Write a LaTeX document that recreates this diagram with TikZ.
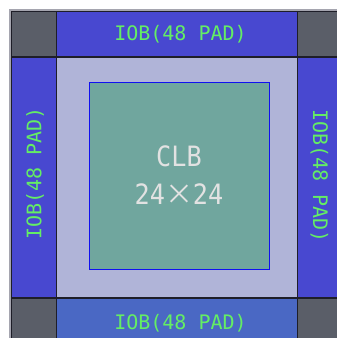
\documentclass[tikz,border=0pt]{standalone}
\usepackage{fontspec}
\usepackage{tikz}
\setmonofont{DejaVu Sans Mono}
\newfontfamily\cjkfont{Noto Sans CJK SC}
\newfontfamily\clbfont[FakeStretch=0.9]{DejaVu Sans Mono}
\definecolor{iobblue}{RGB}{72,72,208}
\definecolor{iobsteel}{RGB}{74,104,196}
\definecolor{cornergray}{RGB}{90,94,104}
\definecolor{corelav}{RGB}{176,180,216}
\definecolor{clbteal}{RGB}{112,166,158}
\definecolor{clbedge}{RGB}{16,16,240}
\definecolor{padgreen}{RGB}{100,238,100}
\definecolor{clbtext}{RGB}{226,226,226}
\definecolor{gridline}{RGB}{30,30,40}
\definecolor{framegray}{RGB}{165,165,175}
\tikzset{
  padlabel/.style={font=\ttfamily\fontsize{20}{24}\selectfont,
    text=padgreen, inner sep=0pt},
  clblabel/.style={font=\clbfont\fontsize{28}{38}\selectfont,
    text=clbtext, align=center, inner sep=0pt},
  gridpen/.style={draw=gridline, line width=1.3pt}
}

\begin{document}
\begin{tikzpicture}[x=1pt, y=-1pt]
  \useasboundingbox (0,0) rectangle (337,338);
  % Light frame round the array
  \fill[framegray] (9,9) rectangle (337,338);

  % Corner cells
  \fill[cornergray] (11,11) rectangle (56.5,57);
  \fill[cornergray] (297.5,11) rectangle (337,57);
  \fill[cornergray] (11,298) rectangle (56.5,338);
  \fill[cornergray] (297.5,298) rectangle (337,338);

  % IOB rows and columns
  \fill[iobblue] (56.5,11) rectangle (297.5,57);
  \fill[iobsteel] (56.5,298) rectangle (297.5,338);
  \fill[iobblue] (11,57) rectangle (56.5,298);
  \fill[iobblue] (297.5,57) rectangle (337,298);

  % Core area and CLB array
  \fill[corelav] (56.5,57) rectangle (297.5,298);
  \draw[clbedge, fill=clbteal, line width=1pt] (89,82) rectangle (269.5,269.5);

  % Grid lines
  \draw[gridpen] (11.5,338) -- (11.5,11.5) -- (337,11.5);
  \draw[gridpen] (56.5,11) -- (56.5,338);
  \draw[gridpen] (297.5,11) -- (297.5,338);
  \draw[gridpen] (11,57) -- (337,57);
  \draw[gridpen] (11,298) -- (337,298);

  % Labels
  \node[padlabel] (padtop) at (180.5,34) {IOB(48 PAD)};
  \node[padlabel] (padbottom) at (180.5,323) {IOB(48 PAD)};
  \node[padlabel, rotate=90] (padleft) at (35,173.5) {IOB(48 PAD)};
  \node[padlabel, rotate=-90] (padright) at (319.5,176) {IOB(48 PAD)};
  \node[clblabel] (clb) at (179,175.5) {CLB\\24{\cjkfont ×}24};
\end{tikzpicture}
\end{document}
